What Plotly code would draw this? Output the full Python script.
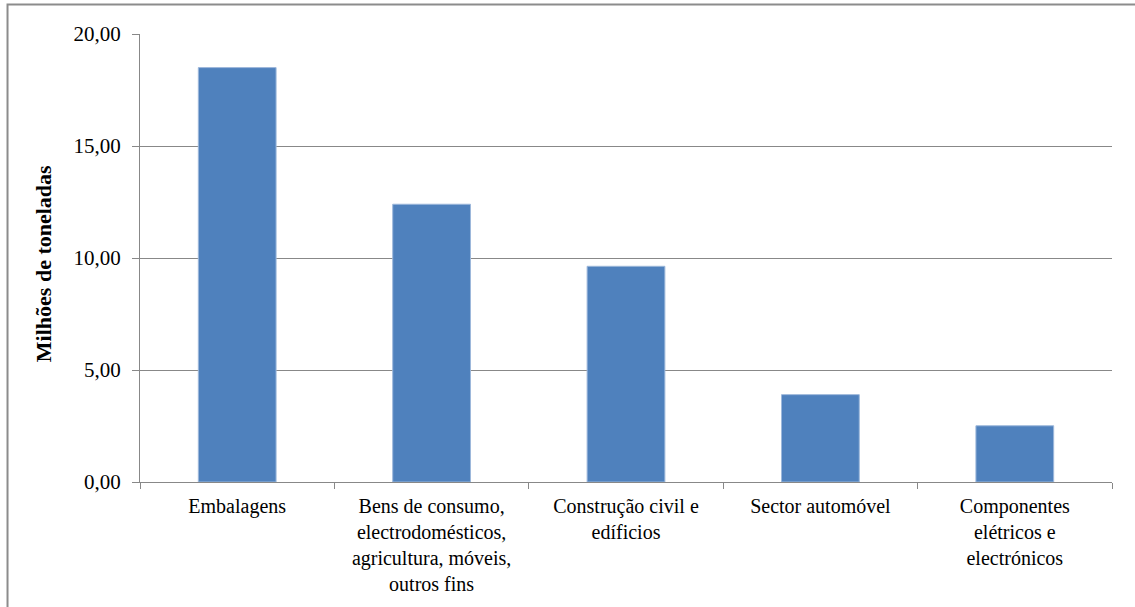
import plotly.graph_objects as go

# Plastic demand by end-use sector (million tonnes)
categories = [
    "Embalagens",
    "Bens de consumo,<br>electrodomésticos,<br>agricultura, móveis,<br>outros fins",
    "Construção civil e<br>edíficios",
    "Sector automóvel",
    "Componentes<br>elétricos e<br>electrónicos",
]
values = [18.50, 12.40, 9.63, 3.90, 2.51]
y_ticks = [0, 5, 10, 15, 20]
y_tick_labels = ["0,00", "5,00", "10,00", "15,00", "20,00"]

FONT = "Liberation Serif, Times New Roman, serif"
GRID = "#888888"

fig = go.Figure(
    go.Bar(
        x=categories,
        y=values,
        width=0.4,
        marker=dict(color="#4F81BD", line=dict(color="#9DB8DB", width=1)),
        hoverinfo="skip",
    )
)

fig.update_layout(
    width=1135,
    height=607,
    margin=dict(l=140, r=23, t=34, b=125),
    paper_bgcolor="white",
    plot_bgcolor="white",
    showlegend=False,
    font=dict(family=FONT, size=20, color="black"),
)

fig.update_xaxes(
    showline=True,
    linecolor=GRID,
    linewidth=1,
    ticks="outside",
    tickson="boundaries",
    ticklen=6,
    tickcolor=GRID,
    showgrid=False,
    ticklabelstandoff=6,
    tickfont=dict(family=FONT, size=20, color="black"),
)

fig.update_yaxes(
    range=[0, 20],
    tickvals=y_ticks,
    ticktext=y_tick_labels,
    showline=True,
    linecolor=GRID,
    linewidth=1,
    ticks="outside",
    ticklen=7,
    tickcolor=GRID,
    showgrid=True,
    gridcolor=GRID,
    gridwidth=1,
    zeroline=False,
    ticklabelstandoff=7,
    tickfont=dict(family=FONT, size=21, color="black"),
)

# Y axis title
fig.add_annotation(
    text="<b>Milhões de toneladas</b>",
    xref="paper", yref="paper",
    x=-0.099, y=0.488,
    xanchor="center", yanchor="middle",
    textangle=-90,
    showarrow=False,
    font=dict(family=FONT, size=22, color="black"),
)

# Chart frame
fig.add_shape(
    type="rect",
    xref="paper", yref="paper",
    x0=-0.1363, x1=1.03, y0=-0.35, y1=1.0658,
    line=dict(color="#8C8C8C", width=2),
    fillcolor="rgba(0,0,0,0)",
    layer="below",
)

fig.write_html("out.html")
